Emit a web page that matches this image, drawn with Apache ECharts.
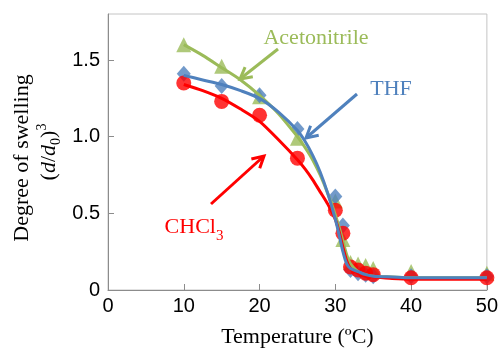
<!DOCTYPE html>
<html><head><meta charset="utf-8">
<script src="https://cdn.jsdelivr.net/npm/echarts@6/dist/echarts.min.js"></script>
<style>html,body{margin:0;padding:0;background:#fff}#c{width:501px;height:353px}</style>
</head><body><div id="c"></div>
<script>
// Measured temperatures (°C)
var temps = [10, 15, 20, 25, 30, 31, 32, 33, 34, 35, 40, 50];
// Degree of swelling (d/d0)^3
var chcl3 = [1.35, 1.23, 1.14, 0.86, 0.52, 0.37, 0.15, 0.13, 0.11, 0.10, 0.08, 0.08];
var thf = [1.41, 1.33, 1.27, 1.05, 0.61, 0.42, 0.13, 0.11, 0.10, 0.09, 0.09, 0.09];
var acetonitrile = [1.60, 1.46, 1.26, 0.99, 0.58, 0.33, 0.18, 0.17, 0.16, 0.14, 0.12, 0.11];
// Fitted curves
var fitX = [10, 12.5, 15, 17.5, 20, 22.5, 25, 26, 27, 28, 29, 30, 30.5, 31, 31.5, 32, 33, 34, 35, 37.5, 40, 45, 50];
var redFitY = [1.34, 1.30, 1.25, 1.18, 1.10, 0.98, 0.85, 0.79, 0.72, 0.64, 0.56, 0.46, 0.38, 0.28, 0.19, 0.14, 0.11, 0.09, 0.085, 0.075, 0.07, 0.07, 0.07];
var blueFitY = [1.40, 1.37, 1.34, 1.30, 1.25, 1.16, 1.04, 0.97, 0.88, 0.77, 0.63, 0.46, 0.36, 0.25, 0.17, 0.14, 0.12, 0.10, 0.09, 0.085, 0.08, 0.08, 0.08];
var greenFitY = [1.60, 1.53, 1.45, 1.37, 1.27, 1.15, 1.00, 0.93, 0.85, 0.75, 0.63, 0.49, 0.41, 0.32, 0.23, 0.17, 0.12, 0.10, 0.09, 0.085, 0.08, 0.08, 0.08];
var yTicks = [0, 0.5, 1.0, 1.5];

var RED = '#ff0000', BLUE = '#4f81bd', GREEN = '#9bbb59';
function pairs(xs, ys){ return xs.map(function(x,i){ return [x, ys[i]]; }); }

var chart = echarts.init(document.getElementById('c'));
var serif = '"Liberation Serif", "DejaVu Serif", serif';
var sans = '"Liberation Sans", Arial, sans-serif';

function fitLine(name, xs, ys, color){
  return {type:'line', name:name, data:pairs(xs, ys), smooth:0.25, showSymbol:false, symbol:'none',
    lineStyle:{color:color, width:3}, z:5, silent:true};
}
function arrowLine(x1,y1,x2,y2,color){
  return {type:'line', shape:{x1:x1,y1:y1,x2:x2,y2:y2}, style:{stroke:color, lineWidth:3}, z:100};
}
function arrowHead(x1,y1,x2,y2,color){
  var a = Math.atan2(y2-y1, x2-x1), L = 13, w = 0.5;
  return {type:'polyline', shape:{points:[[x2 - L*Math.cos(a-w), y2 - L*Math.sin(a-w)],[x2,y2],[x2 - L*Math.cos(a+w), y2 - L*Math.sin(a+w)]]},
    style:{stroke:color, lineWidth:3, fill:null}, z:100};
}

var option = {
  animation:false,
  grid:{left:108, right:14, top:14, bottom:55, show:true, borderColor:'#c4c4c4', borderWidth:1},
  xAxis:{type:'value', min:0, max:50, interval:10,
    axisLine:{show:true, lineStyle:{color:'#8c8c8c', width:1}},
    axisTick:{show:true, inside:true, length:6, lineStyle:{color:'#8c8c8c'}},
    axisLabel:{color:'#000', fontSize:20, fontFamily:sans, margin:6},
    splitLine:{show:false},
    name:'Temperature (ºC)', nameLocation:'middle', nameGap:36,
    nameTextStyle:{color:'#000', fontSize:22, fontFamily:serif}},
  yAxis:{type:'value', min:0, max:1.8, interval:0.5,
    axisLine:{show:true, lineStyle:{color:'#8c8c8c', width:1}},
    axisTick:{show:true, inside:true, length:6, lineStyle:{color:'#8c8c8c'}},
    axisLabel:{color:'#000', fontSize:20, fontFamily:sans, margin:8, showMaxLabel:false,
      formatter:function(v){ if (yTicks.indexOf(v) < 0) return ''; return v === 0 ? '0' : v.toFixed(1); }},
    splitLine:{show:false}},
  series:[
    {type:'scatter', name:'Acetonitrile', data:pairs(temps, acetonitrile), symbol:'triangle', symbolSize:15, itemStyle:{color:GREEN}, z:2},
    {type:'scatter', name:'THF', data:pairs(temps, thf), symbol:'diamond', symbolSize:[14,16], itemStyle:{color:BLUE}, z:3},
    {type:'scatter', name:'CHCl3', data:pairs(temps, chcl3), symbol:'circle', symbolSize:15, itemStyle:{color:RED}, z:4},
    fitLine('Acetonitrile fit', fitX, greenFitY, GREEN),
    fitLine('CHCl3 fit', fitX, redFitY, RED),
    fitLine('THF fit', fitX, blueFitY, BLUE)
  ],
  graphic:[
    {type:'text', x:316, y:38, style:{text:'Acetonitrile', fill:GREEN, font:'22px '+serif, textAlign:'center', textVerticalAlign:'middle'}, z:100},
    arrowLine(278,49,240,79,GREEN), arrowHead(278,49,240,79,GREEN),
    {type:'text', x:391, y:89, style:{text:'THF', fill:BLUE, font:'22px '+serif, textAlign:'center', textVerticalAlign:'middle'}, z:100},
    arrowLine(357,94,306,138,BLUE), arrowHead(357,94,306,138,BLUE),
    {type:'text', x:194, y:225, style:{text:'{a|CHCl}{b|3}', textAlign:'center', textVerticalAlign:'middle',
      rich:{a:{fill:RED, fontSize:22, fontFamily:serif, lineHeight:26, verticalAlign:'bottom'},
            b:{fill:RED, fontSize:15, fontFamily:serif, lineHeight:26, verticalAlign:'bottom', padding:[0,0,-6,0]}}}, z:100},
    arrowLine(211,204,264,156,RED), arrowHead(211,204,264,156,RED),
    {type:'group', x:22, y:158, rotation:Math.PI/2, z:100, children:[
      {type:'text', x:0, y:0, style:{text:'Degree of swelling', fill:'#000', font:'22px '+serif, textAlign:'center', textVerticalAlign:'middle'}},
      {type:'text', x:6, y:27, style:{text:'{n|(}{i|d}{n|/}{i|d}{s|0}{n|)}{p|3}', textAlign:'center', textVerticalAlign:'middle',
        rich:{n:{fill:'#000', fontSize:22, fontFamily:serif, lineHeight:28, verticalAlign:'middle'},
              i:{fill:'#000', fontSize:22, fontFamily:serif, fontStyle:'italic', lineHeight:28, verticalAlign:'middle'},
              s:{fill:'#000', fontSize:14, fontFamily:serif, lineHeight:28, verticalAlign:'bottom'},
              p:{fill:'#000', fontSize:14, fontFamily:serif, lineHeight:28, verticalAlign:'top'}}}}
    ]}
  ]
};
chart.setOption(option);
</script></body></html>
